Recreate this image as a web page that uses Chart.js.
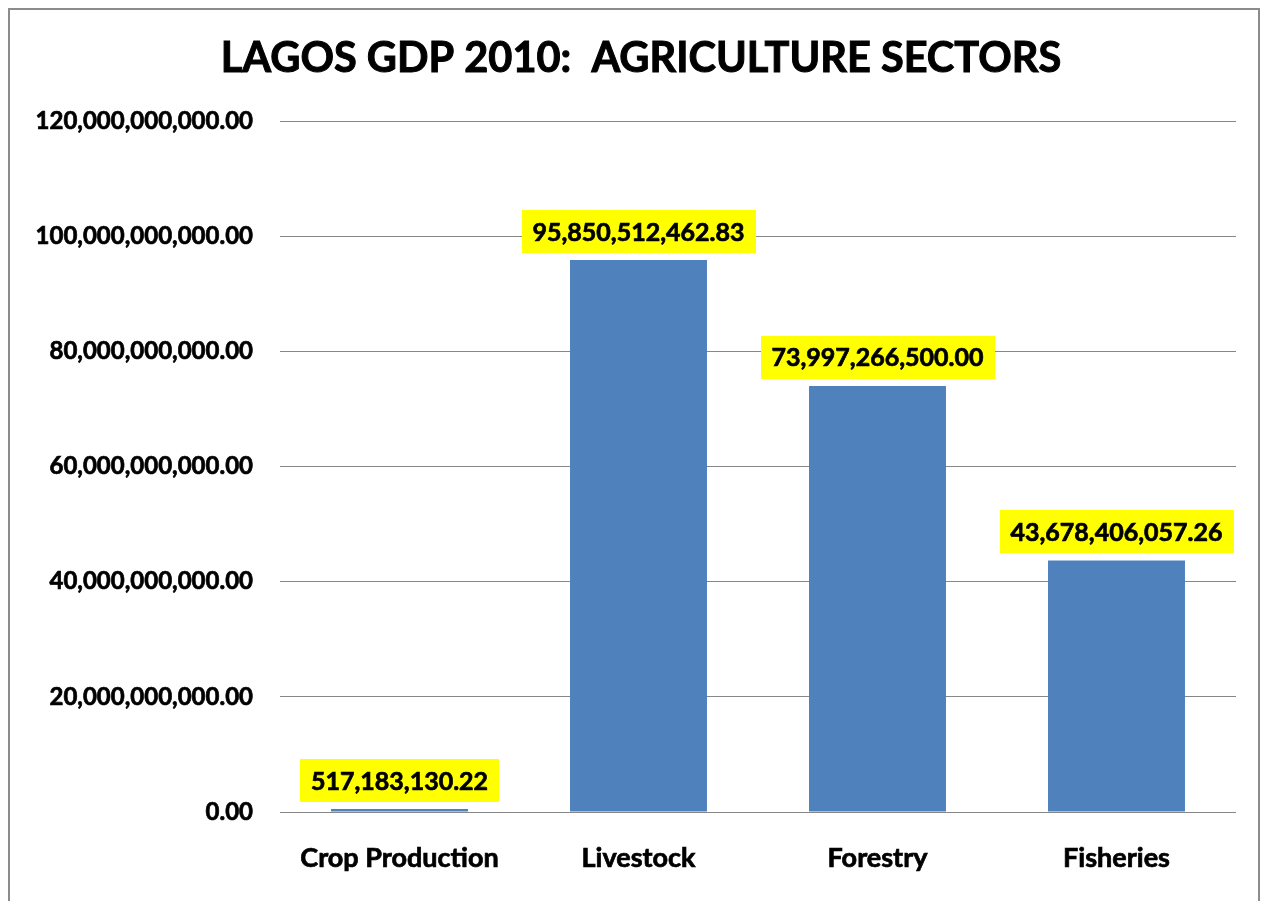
<!DOCTYPE html>
<html>
<head>
<meta charset="utf-8">
<script src="https://cdn.jsdelivr.net/npm/chart.js@4.4.1/dist/chart.umd.min.js"></script>
<style>
  html, body { margin: 0; padding: 0; background: #ffffff; }
  #wrap { width: 1267px; height: 901px; position: relative; }
</style>
</head>
<body>
<div id="wrap"><canvas id="c" width="1267" height="901"></canvas></div>
<script>
const titleText = "LAGOS GDP 2010:  AGRICULTURE SECTORS";
const categories = ["Crop Production", "Livestock", "Forestry", "Fisheries"];
const gdpValues = [517183130.22, 95850512462.83, 73997266500.00, 43678406057.26];
const valueLabels = ["517,183,130.22", "95,850,512,462.83", "73,997,266,500.00", "43,678,406,057.26"];
const yTickValues = [0, 20000000000, 40000000000, 60000000000, 80000000000, 100000000000, 120000000000];
const yTickLabels = ["0.00", "20,000,000,000.00", "40,000,000,000.00", "60,000,000,000.00", "80,000,000,000.00", "100,000,000,000.00", "120,000,000,000.00"];

const FONT = "Lato";
const STROKE = 0.7;

const framePlugin = {
  id: 'frame',
  beforeDraw(chart) {
    const ctx = chart.ctx;
    ctx.save();
    ctx.fillStyle = '#ffffff';
    ctx.fillRect(0, 0, chart.width, chart.height);
    ctx.strokeStyle = '#8c8c8c';
    ctx.lineWidth = 2;
    ctx.strokeRect(9, 9, 1250, 1000);
    ctx.restore();
  },
  afterDraw(chart) {
    const ctx = chart.ctx;
    ctx.save();
    ctx.font = "bold 41.5px " + FONT;
    ctx.fillStyle = '#000000';
    ctx.strokeStyle = '#000000';
    ctx.lineWidth = 1;
    ctx.textAlign = 'center';
    ctx.textBaseline = 'middle';
    ctx.fillText(titleText, 641, 59);
    ctx.strokeText(titleText, 641, 59);
    ctx.restore();
  }
};

const labelPlugin = {
  id: 'valueLabels',
  afterDatasetsDraw(chart) {
    const ctx = chart.ctx;
    const meta = chart.getDatasetMeta(0);
    ctx.save();
    ctx.font = "bold 25px " + FONT;
    ctx.textAlign = 'center';
    ctx.textBaseline = 'middle';
    meta.data.forEach((bar, i) => {
      const txt = valueLabels[i];
      const w = ctx.measureText(txt).width;
      const boxW = w + 22;
      const boxH = 43;
      const bottom = bar.y - 7;
      ctx.fillStyle = '#ffff00';
      ctx.fillRect(Math.round(bar.x - boxW / 2), Math.round(bottom - boxH), Math.round(boxW), boxH);
      ctx.fillStyle = '#000000';
      ctx.strokeStyle = '#000000';
      ctx.lineWidth = STROKE;
      ctx.fillText(txt, bar.x, bottom - boxH / 2 + 1);
      ctx.strokeText(txt, bar.x, bottom - boxH / 2 + 1);
    });
    ctx.restore();
  }
};

new Chart(document.getElementById('c'), {
  type: 'bar',
  data: {
    labels: categories,
    datasets: [{
      data: gdpValues,
      backgroundColor: '#4f81bd',
      borderWidth: 0,
      barPercentage: 0.573,
      categoryPercentage: 1.0
    }]
  },
  options: {
    responsive: false,
    animation: false,
    layout: { padding: { left: 0, right: 31, top: 121, bottom: 0 } },
    plugins: {
      legend: { display: false },
      tooltip: { enabled: false },
      title: { display: false }
    },
    scales: {
      x: {
        afterFit(scale) { scale.height = 89; },
        grid: { display: false, drawTicks: false },
        border: { display: false },
        ticks: {
          color: '#000000',
          textStrokeColor: '#000000',
          textStrokeWidth: STROKE,
          padding: 30,
          font: { family: FONT, size: 27, weight: 'bold', lineHeight: 1.2 }
        }
      },
      y: {
        min: 0,
        max: 120000000000,
        afterFit(scale) { scale.width = 280; },
        afterBuildTicks(scale) { scale.ticks = yTickValues.map(v => ({ value: v })); },
        grid: { color: '#878787', lineWidth: 1, drawTicks: false },
        border: { display: false },
        ticks: {
          color: '#000000',
          textStrokeColor: '#000000',
          textStrokeWidth: STROKE,
          padding: 27,
          font: { family: FONT, size: 24, weight: 'bold' },
          callback(value) {
            const idx = yTickValues.indexOf(value);
            return idx >= 0 ? yTickLabels[idx] : '';
          }
        }
      }
    }
  },
  plugins: [framePlugin, labelPlugin]
});
</script>
</body>
</html>
